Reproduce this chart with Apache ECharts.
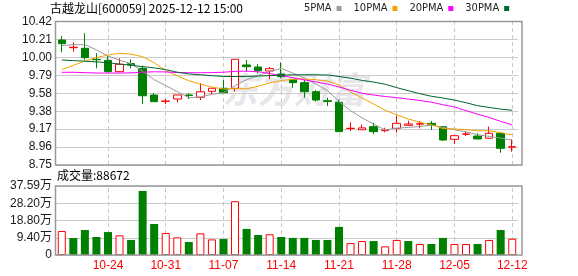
<!DOCTYPE html>
<html><head><meta charset="utf-8">
<script src="https://cdn.jsdelivr.net/npm/echarts@6/dist/echarts.min.js"></script>
<style>html,body{margin:0;padding:0;background:#fff}#c{width:578px;height:276px}</style>
</head><body><div id="c"></div><script>
const stockName = '古越龙山';
const stockCode = '600059';
const stampText = '2025-12-12 15:00';
const dates = ['10-20','10-21','10-22','10-23','10-24','10-27','10-28','10-29','10-30','10-31',
  '11-03','11-04','11-05','11-06','11-07','11-10','11-11','11-12','11-13','11-14',
  '11-17','11-18','11-19','11-20','11-21','11-24','11-25','11-26','11-27','11-28',
  '12-01','12-02','12-03','12-04','12-05','12-08','12-09','12-10','12-11','12-12'];
const opens  = [10.205,10.115,10.108,9.98,9.968,9.836,9.93,9.875,9.564,9.49,
  9.518,9.565,9.538,9.608,9.643,9.643,9.914,9.89,9.844,9.809,
  9.747,9.708,9.603,9.498,9.48,9.174,9.16,9.196,9.15,9.177,
  9.212,9.225,9.235,9.196,9.049,9.108,9.087,9.061,9.119,8.958];
const closes = [10.162,10.12,9.999,9.975,9.836,9.922,9.915,9.556,9.487,9.495,
  9.565,9.56,9.603,9.643,9.59,9.98,9.894,9.847,9.871,9.778,
  9.708,9.603,9.506,9.49,9.138,9.178,9.182,9.138,9.155,9.235,
  9.227,9.23,9.215,9.041,9.091,9.111,9.053,9.119,8.944,8.962];
const lows   = [10.062,10.069,9.975,9.875,9.829,9.83,9.875,9.46,9.487,9.46,
  9.48,9.518,9.506,9.576,9.584,9.603,9.836,9.817,9.747,9.759,
  9.65,9.533,9.487,9.437,9.138,9.146,9.16,9.107,9.13,9.13,
  9.212,9.177,9.157,9.03,8.995,9.088,9.049,9.053,8.893,8.905];
const highs  = [10.251,10.178,10.283,10.05,10.022,9.992,9.98,9.906,9.588,9.518,
  9.565,9.584,9.70,9.643,9.739,9.98,9.972,9.925,9.89,9.945,
  9.75,9.739,9.623,9.533,9.51,9.247,9.22,9.242,9.184,9.324,
  9.265,9.262,9.262,9.2,9.091,9.137,9.119,9.196,9.119,9.05];
const prevClose = 10.10;
const volumes = [130700,92600,136000,98000,125000,107000,82000,349000,169000,120000,
  96000,71000,118000,85000,87000,293000,142000,109000,113000,98000,
  93000,93000,82000,82000,153000,65000,76000,76000,47000,82000,
  76000,60000,60000,93000,60000,60000,60000,82000,136000,88672];
const ma5  = [10.14,10.15,10.15,10.09,10.018,9.970,9.929,9.841,9.743,9.675,
  9.604,9.533,9.542,9.573,9.592,9.675,9.742,9.791,9.836,9.874,
  9.820,9.761,9.693,9.617,9.489,9.383,9.299,9.225,9.158,9.178,
  9.188,9.198,9.213,9.189,9.160,9.137,9.102,9.083,9.064,9.038];
const ma10 = [9.86,9.91,9.96,10.00,10.03,10.05,10.04,10.01,9.94,9.847,
  9.787,9.731,9.691,9.658,9.634,9.639,9.637,9.666,9.705,9.733,
  9.747,9.752,9.742,9.727,9.682,9.601,9.530,9.460,9.388,9.334,
  9.286,9.248,9.219,9.174,9.169,9.162,9.149,9.148,9.126,9.099];
const ma20 = [9.829,9.829,9.825,9.82,9.82,9.82,9.822,9.83,9.835,9.833,
  9.826,9.824,9.824,9.825,9.83,9.84,9.842,9.835,9.815,9.79,
  9.767,9.741,9.717,9.692,9.658,9.620,9.585,9.564,9.547,9.534,
  9.517,9.501,9.481,9.451,9.426,9.383,9.341,9.304,9.258,9.217];
const ma30 = [9.972,9.965,9.958,9.95,9.94,9.925,9.91,9.895,9.88,9.86,
  9.83,9.81,9.80,9.79,9.78,9.78,9.78,9.785,9.79,9.795,
  9.80,9.80,9.80,9.797,9.78,9.76,9.735,9.715,9.69,9.65,
  9.615,9.58,9.55,9.53,9.505,9.475,9.44,9.42,9.40,9.387];
const maNames = ['5PMA','10PMA','20PMA','30PMA'];
const priceTickLabels = ['8.75','8.96','9.17','9.38','9.58','9.79','10.00','10.21','10.42'];
const volTickLabels = ['0','9.40万','18.80万','28.20万','37.59万'];
const volMax = 375900;

const priceMin = parseFloat(priceTickLabels[0]);
const priceMax = parseFloat(priceTickLabels[priceTickLabels.length-1]);
const priceStep = (priceMax - priceMin) / (priceTickLabels.length - 1);
const volStep = volMax / (volTickLabels.length - 1);

const RED = '#ff0000', GREEN = '#008000';
const numFont = '"Liberation Sans", Arial, sans-serif';
const cjkFont = '"Liberation Sans", "Noto Sans CJK SC", sans-serif';

const candleData = dates.map((d, i) => [opens[i], closes[i], lows[i], highs[i]]);
const volData = volumes.map((v, i) => {
  const pc = i === 0 ? prevClose : closes[i-1];
  const up = closes[i] >= pc;
  return { value: v, itemStyle: up ? { color: '#ffffff', borderColor: RED, borderWidth: 1 } : { color: GREEN, borderColor: GREEN, borderWidth: 0 } };
});
const markDates = dates.filter((d, i) => i % 5 === 4).map(d => ({ xAxis: d }));
const vLine = {
  silent: true, symbol: ['none','none'], z: 1, animation: false,
  label: { show: false },
  lineStyle: { color: '#c8c8c8', type: [4, 3], width: 1 },
  emphasis: { disabled: true },
  data: markDates
};

const chart = echarts.init(document.getElementById('c'), null, { renderer: 'canvas' });
const L = 56, R = 60;
chart.setOption({
  animation: false,
  backgroundColor: '#ffffff',
  legend: {
    data: maNames, left: 304, top: 3, align: 'right', icon: 'rect',
    itemWidth: 5, itemHeight: 5, itemGap: 12, padding: 0,
    textStyle: { fontSize: 11, color: '#222', fontFamily: '"Liberation Sans Narrow", "DejaVu Sans Condensed", "Liberation Sans", sans-serif' }
  },
  graphic: [
    { type: 'text', left: 222, top: 71, z: -10, silent: true,
      style: { text: '东方财富', font: 'italic bold 36px "Noto Sans CJK SC", sans-serif', fill: '#e6e6eb' } },
    { type: 'text', left: 50, top: 2, silent: true,
      style: { text: stockName + '[' + stockCode + '] ' + stampText, font: '12px "Liberation Sans Narrow", "Noto Sans CJK SC", sans-serif', fill: '#000' } },
    { type: 'text', left: 57, top: 169, silent: true,
      style: { text: '成交量:' + volumes[volumes.length-1], font: '12px "Noto Sans CJK SC", sans-serif', fill: '#000' } },
    { type: 'rect', shape: { x: 55.5, y: 21.5, width: 466.5, height: 143.5 }, silent: true, z: 10,
      style: { fill: 'none', stroke: '#999', lineWidth: 1.5 } },
    { type: 'rect', shape: { x: 55.5, y: 186, width: 466.5, height: 69 }, silent: true, z: 10,
      style: { fill: 'none', stroke: '#999', lineWidth: 1.5 } }
  ],
  grid: [
    { left: L, right: R, top: 21.5, height: 143.5 },
    { left: L, right: R, top: 186, height: 69 }
  ],
  xAxis: [
    { type: 'category', gridIndex: 0, data: dates, boundaryGap: true,
      axisLine: { show: false }, axisTick: { show: false }, axisLabel: { show: false }, splitLine: { show: false } },
    { type: 'category', gridIndex: 1, data: dates, boundaryGap: true,
      axisLine: { show: false }, axisTick: { show: false }, splitLine: { show: false },
      axisLabel: { interval: (i) => i % 5 === 4, color: RED, fontSize: 12, margin: 5, fontFamily: numFont } }
  ],
  yAxis: [
    { type: 'value', gridIndex: 0, min: priceMin, max: priceMax, interval: priceStep,
      axisLine: { show: false }, axisTick: { show: false },
      axisLabel: { color: '#1a1a1a', fontSize: 12, margin: 4, fontFamily: numFont,
        formatter: (v) => priceTickLabels[Math.round((v - priceMin) / priceStep)] },
      splitLine: { show: true, lineStyle: { color: '#cccccc', width: 1 } } },
    { type: 'value', gridIndex: 1, min: 0, max: volMax, interval: volStep,
      axisLine: { show: false }, axisTick: { show: false },
      axisLabel: { color: '#1a1a1a', fontSize: 12, margin: 4, fontFamily: cjkFont,
        formatter: (v) => volTickLabels[Math.round(v / volStep)] },
      splitLine: { show: true, lineStyle: { color: '#cccccc', width: 1 } } }
  ],
  series: [
    { type: 'candlestick', name: 'K', xAxisIndex: 0, yAxisIndex: 0, data: candleData, barWidth: 8,
      itemStyle: { color: '#ffffff', color0: GREEN, borderColor: RED, borderColor0: GREEN, borderWidth: 1 },
      markLine: vLine },
    { type: 'line', name: maNames[0], data: ma5, xAxisIndex: 0, yAxisIndex: 0, symbol: 'none', color: '#9a9a9a', lineStyle: { width: 1, color: '#9a9a9a' } },
    { type: 'line', name: maNames[1], data: ma10, xAxisIndex: 0, yAxisIndex: 0, symbol: 'none', color: '#f4a300', lineStyle: { width: 1, color: '#f4a300' } },
    { type: 'line', name: maNames[2], data: ma20, xAxisIndex: 0, yAxisIndex: 0, symbol: 'none', color: '#ff00ff', lineStyle: { width: 1, color: '#ff00ff' } },
    { type: 'line', name: maNames[3], data: ma30, xAxisIndex: 0, yAxisIndex: 0, symbol: 'none', color: '#00662e', lineStyle: { width: 1, color: '#00662e' } },
    { type: 'bar', name: 'VOL', xAxisIndex: 1, yAxisIndex: 1, data: volData, barWidth: 8,
      markLine: vLine }
  ]
});
</script></body></html>
